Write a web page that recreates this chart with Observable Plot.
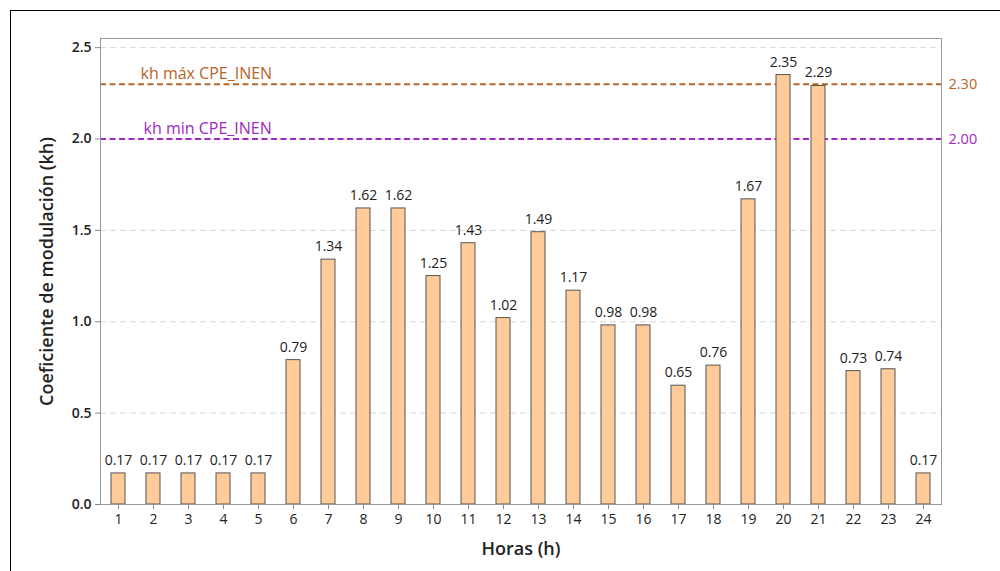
<!DOCTYPE html>
<html>
<head>
<meta charset="utf-8">
<script src="https://cdn.jsdelivr.net/npm/d3@7"></script>
<script src="https://cdn.jsdelivr.net/npm/@observablehq/plot@0.6"></script>
<style>
  html, body { margin: 0; padding: 0; background: #fff; }
  #wrap { position: relative; width: 1000px; height: 571px; overflow: hidden; font-family: "Open Sans", sans-serif; }
  #border { position: absolute; left: 10px; top: 10px; width: 1200px; height: 800px; border-left: 1.5px solid #000; border-top: 1.5px solid #000; }
  #chart { position: absolute; left: 0; top: 0; }
</style>
</head>
<body>
<div id="wrap"><div id="border"></div><div id="chart"></div></div>
<script>
const hours = ["1","2","3","4","5","6","7","8","9","10","11","12","13","14","15","16","17","18","19","20","21","22","23","24"];
const kh = [0.17,0.17,0.17,0.17,0.17,0.79,1.34,1.62,1.62,1.25,1.43,1.02,1.49,1.17,0.98,0.98,0.65,0.76,1.67,2.35,2.29,0.73,0.74,0.17];
const yTicks = [0, 0.5, 1.0, 1.5, 2.0, 2.5];
const refValues = [2.30, 2.00];
const refLabels = ["kh máx CPE_INEN", "kh min CPE_INEN"];
const refColors = ["#b5652a", "#a028c4"];

const data = hours.map((h, i) => ({hour: h, kh: kh[i]}));
const refs = refValues.map((v, i) => ({v, label: refLabels[i], color: refColors[i]}));

const chart = Plot.plot({
  width: 1000,
  height: 571,
  marginLeft: 100,
  marginRight: 59,
  marginTop: 38,
  marginBottom: 67,
  style: {fontFamily: "'Open Sans', sans-serif", background: "transparent", overflow: "visible"},
  x: {type: "band", domain: hours, paddingInner: 0.6, paddingOuter: 0.3},
  y: {domain: [0, 2.55]},
  marks: [
    Plot.gridY(yTicks, {stroke: "#bbb", strokeOpacity: 0.6, strokeDasharray: "6,4"}),
    Plot.ruleY(refs, {y: "v", stroke: "color", strokeWidth: 2, strokeDasharray: "6,3.5"}),
    Plot.text(refs.slice(0,1), {y: "v", text: "label", fill: "color", frameAnchor: "left", dx: 40, dy: -10, textAnchor: "start", fontSize: 16}),
    Plot.text(refs.slice(1), {y: "v", text: "label", fill: "color", frameAnchor: "left", dx: 43, dy: -10, textAnchor: "start", fontSize: 16}),
    Plot.text(refs, {y: "v", text: d => d.v.toFixed(2), fill: "color", frameAnchor: "right", dx: 7, textAnchor: "start", fontSize: 14.5}),
    Plot.barY(data, {x: "hour", y: "kh", fill: "#ffcc99", stroke: "#555", strokeWidth: 1}),
    Plot.text(data, {x: "hour", y: "kh", text: d => d.kh.toFixed(2), dy: -13, fill: "#222", fontSize: 14}),
    Plot.frame({stroke: "#999"}),
    Plot.axisY(yTicks, {tickFormat: d => d.toFixed(1), fontSize: 14, fontWeight: 600, fill: "#222", tickSize: 5, stroke: "#888",
      label: "Coeficiente de modulación (kh)", labelAnchor: "center", labelArrow: "none", labelOffset: 60}),
    Plot.axisX({fontSize: 14, fill: "#222", tickSize: 5, stroke: "#888", tickPadding: 5,
      label: "Horas (h)", labelAnchor: "center", labelArrow: "none", labelOffset: 50})
  ]
});
chart.querySelectorAll("g[aria-label='y-axis label'] text, g[aria-label='x-axis label'] text").forEach(t => {
  t.setAttribute("font-size", "18");
  t.setAttribute("font-weight", "600");
  t.setAttribute("fill", "#222");
});
document.getElementById("chart").appendChild(chart);
</script>
</body>
</html>
